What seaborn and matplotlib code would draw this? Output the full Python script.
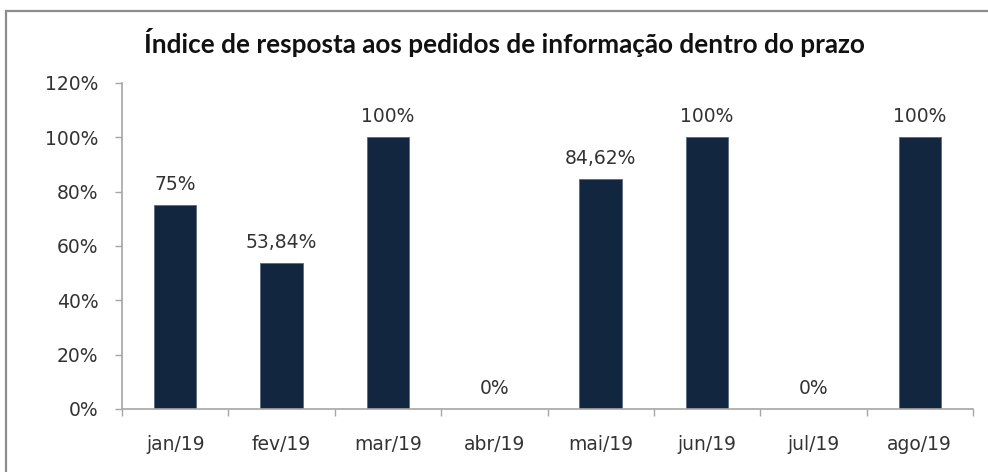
import matplotlib
matplotlib.use("Agg")
import matplotlib.pyplot as plt
import pandas as pd
import seaborn as sns
from matplotlib.patches import Rectangle
from matplotlib.ticker import FixedLocator

months = ["jan/19", "fev/19", "mar/19", "abr/19", "mai/19", "jun/19", "jul/19", "ago/19"]
values = [75, 53.84, 100, 0, 84.62, 100, 0, 100]
value_labels = ["75%", "53,84%", "100%", "0%", "84,62%", "100%", "0%", "100%"]
y_ticks = [0, 20, 40, 60, 80, 100, 120]

df = pd.DataFrame({"mes": months, "indice": values})

sns.set_style("white")
plt.rcParams["font.family"] = ["DejaVu Sans"]

fig = plt.figure(figsize=(9.88, 4.72), dpi=100)
ax = fig.add_axes([0.1235, 0.1335, 0.8613, 0.6907])

sns.barplot(data=df, x="mes", y="indice", color="#13263f", width=0.4,
            saturation=1, edgecolor="#5a6a80", linewidth=0.6, ax=ax)

for i, (v, lab) in enumerate(zip(values, value_labels)):
    ax.annotate(lab, (i, v), xytext=(0, 8), textcoords="offset points",
                ha="center", va="bottom", fontsize=13.5, color="#333333")

ax.set_ylim(0, 120)
ax.set_xlim(-0.5, len(months) - 0.5)
ax.set_yticks(y_ticks)
ax.set_yticklabels([f"{t}%" for t in y_ticks])
ax.set_xlabel("")
ax.set_ylabel("")

for s in ["top", "right"]:
    ax.spines[s].set_visible(False)
for s in ["left", "bottom"]:
    ax.spines[s].set_color("#a6a6a6")
    ax.spines[s].set_linewidth(1.2)

ax.tick_params(axis="y", direction="out", length=5, width=1, color="#a6a6a6",
               pad=12, labelsize=13.5, labelcolor="#333333", left=True)
ax.tick_params(axis="x", which="major", length=0, pad=19, labelsize=13.5,
               labelcolor="#333333")
ax.xaxis.set_minor_locator(FixedLocator([i - 0.5 for i in range(len(months) + 1)]))
ax.tick_params(axis="x", which="minor", direction="out", length=5, width=1,
               color="#a6a6a6", bottom=True)

fig.text(0.511, 0.91, "Índice de resposta aos pedidos de informação dentro do prazo",
         ha="center", va="center", fontsize=18.8, fontweight="bold",
         family="Lato", color="#111111")

fig.patches.append(Rectangle((0.006, -0.05), 1.1, 1.027, transform=fig.transFigure,
                             fill=False, edgecolor="#8c8c8c", linewidth=1.6))

fig.savefig("out.png", dpi=100)
